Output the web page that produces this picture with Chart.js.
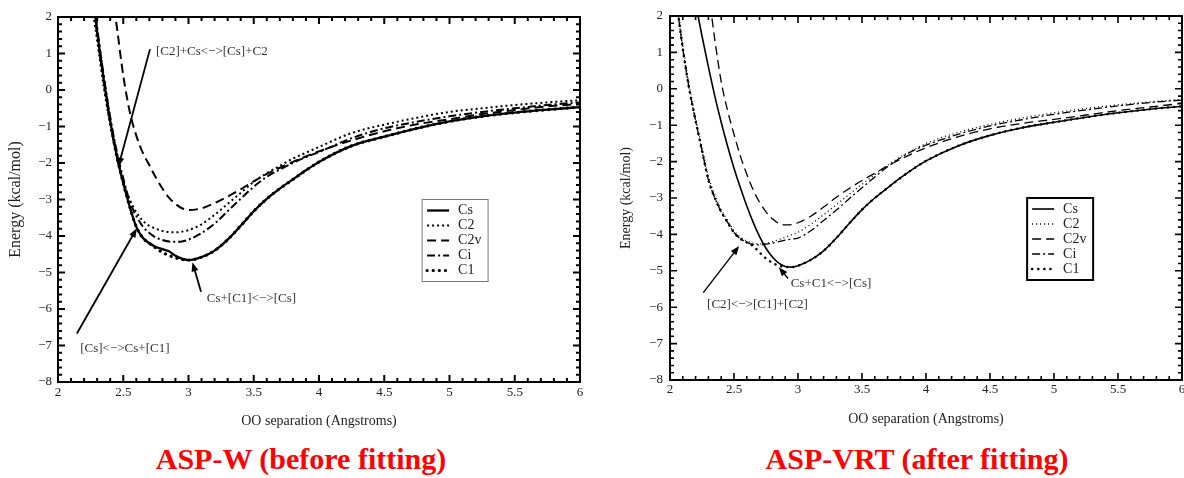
<!DOCTYPE html>
<html>
<head>
<meta charset="utf-8">
<script src="https://cdn.jsdelivr.net/npm/chart.js@4.4.1/dist/chart.umd.min.js"></script>
<style>
  body { margin:0; background:#fff; width:1184px; height:478px; position:relative; overflow:hidden; }
  canvas { position:absolute; top:0; }
  .cap { position:absolute; top:444px; font-family:"Liberation Serif","Times New Roman",serif; font-weight:bold;
         font-size:30px; line-height:30px; color:#f00; white-space:nowrap; transform:translateX(-50%); }
</style>
</head>
<body>
<canvas id="aspw" width="592" height="440" style="left:0"></canvas>
<canvas id="aspvrt" width="584" height="440" style="left:600px"></canvas>
<div class="cap" style="left:301px">ASP-W (before fitting)</div>
<div class="cap" style="left:917px">ASP-VRT (after fitting)</div>
<script>
// dimer conformers, in legend order
const conformers = ['Cs', 'C2', 'C2v', 'Ci', 'C1'];

// ASP-W (before fitting): OO separation (Angstroms) and energies (kcal/mol)
const sepW = [2.25, 2.30, 2.35, 2.40, 2.45, 2.50, 2.55, 2.60, 2.65, 2.70, 2.75, 2.80, 2.85, 2.90, 2.95, 3.00,
  3.10, 3.20, 3.30, 3.40, 3.50, 3.60, 3.70, 3.80, 3.90, 4.00, 4.25, 4.50, 4.75, 5.00, 5.25, 5.50, 5.75, 6.00];
const csW = [3.2, 1.6, 0.3, -0.85, -1.8, -2.55, -3.2, -3.75, -4.05, -4.2, -4.3, -4.36, -4.42, -4.54, -4.62, -4.66,
  -4.58, -4.4, -4.1, -3.72, -3.32, -2.98, -2.7, -2.45, -2.2, -1.97, -1.53, -1.28, -1.05, -0.86, -0.72, -0.62, -0.54, -0.47];
const c2W = [2.6, 1.35, 0.1, -0.95, -1.8, -2.5, -3.0, -3.35, -3.58, -3.72, -3.8, -3.86, -3.89, -3.9, -3.88, -3.84,
  -3.68, -3.42, -3.12, -2.82, -2.52, -2.28, -2.08, -1.88, -1.72, -1.56, -1.18, -0.95, -0.76, -0.6, -0.5, -0.41, -0.34, -0.28];
const c2vW = [null, null, null, 3.0, 1.75, 0.4, -0.6, -1.25, -1.72, -2.06, -2.4, -2.7, -2.95, -3.12, -3.24, -3.29,
  -3.24, -3.1, -2.92, -2.72, -2.5, -2.3, -2.13, -1.97, -1.82, -1.68, -1.38, -1.13, -0.94, -0.8, -0.66, -0.55, -0.45, -0.38];
const ciW = [3.3, 1.7, 0.4, -0.75, -1.68, -2.42, -3.05, -3.45, -3.74, -3.92, -4.04, -4.11, -4.15, -4.16, -4.15, -4.1,
  -3.92, -3.66, -3.32, -2.98, -2.65, -2.38, -2.18, -2.0, -1.84, -1.7, -1.32, -1.05, -0.87, -0.72, -0.6, -0.5, -0.41, -0.34];
const c1W = [3.2, 1.6, 0.3, -0.85, -1.8, -2.55, -3.2, -3.75, -4.05, -4.2, -4.33, -4.45, -4.53, -4.6, -4.64, -4.66,
  -4.58, -4.4, -4.1, -3.72, -3.32, -2.98, -2.7, -2.45, -2.2, -1.97, -1.53, -1.28, -1.05, -0.86, -0.72, -0.62, -0.54, -0.47];

// ASP-VRT (after fitting)
const sepVRT = [2.05, 2.10, 2.15, 2.20, 2.25, 2.30, 2.35, 2.40, 2.45, 2.50, 2.55, 2.60, 2.65, 2.70, 2.75, 2.80, 2.85, 2.90, 2.95, 3.00,
  3.10, 3.20, 3.30, 3.40, 3.50, 3.60, 3.70, 3.80, 3.90, 4.00, 4.25, 4.50, 4.75, 5.00, 5.25, 5.50, 5.75, 6.00];
const csVRT = [null, null, null, 2.35, 1.45, 0.6, -0.2, -0.92, -1.58, -2.18, -2.72, -3.22, -3.67, -4.06, -4.38, -4.62, -4.79, -4.88, -4.9, -4.86,
  -4.7, -4.45, -4.1, -3.7, -3.32, -3.0, -2.72, -2.45, -2.2, -1.98, -1.57, -1.28, -1.07, -0.92, -0.78, -0.66, -0.56, -0.48];
const c2VRT = [2.6, 1.2, 0.1, -0.8, -1.62, -2.4, -2.92, -3.32, -3.62, -3.9, -4.08, -4.18, -4.24, -4.26, -4.25, -4.2, -4.14, -4.08, -4.01, -3.94,
  -3.72, -3.46, -3.18, -2.9, -2.62, -2.36, -2.1, -1.87, -1.68, -1.5, -1.2, -0.98, -0.8, -0.66, -0.54, -0.44, -0.36, -0.29];
const c2vVRT = [null, null, null, null, null, 2.7, 1.35, 0.2, -0.6, -1.25, -1.85, -2.35, -2.78, -3.12, -3.38, -3.57, -3.7, -3.74, -3.73, -3.68,
  -3.5, -3.25, -2.98, -2.74, -2.52, -2.32, -2.12, -1.94, -1.77, -1.62, -1.32, -1.1, -0.95, -0.84, -0.72, -0.6, -0.5, -0.4];
const ciVRT = [2.4, 1.1, 0.0, -0.88, -1.7, -2.5, -3.0, -3.38, -3.67, -3.95, -4.12, -4.22, -4.28, -4.29, -4.27, -4.24, -4.2, -4.16, -4.13, -4.1,
  -3.9, -3.62, -3.33, -3.02, -2.72, -2.42, -2.14, -1.9, -1.7, -1.55, -1.25, -1.02, -0.85, -0.7, -0.58, -0.47, -0.38, -0.31];
const c1VRT = [2.4, 1.1, 0.0, -0.88, -1.7, -2.5, -3.0, -3.38, -3.67, -3.95, -4.12, -4.22, -4.32, -4.5, -4.66, -4.78, -4.86, -4.89, -4.9, -4.86,
  -4.7, -4.45, -4.1, -3.7, -3.32, -3.0, -2.72, -2.45, -2.2, -1.98, -1.57, -1.28, -1.07, -0.92, -0.78, -0.66, -0.56, -0.48];

// arrows + labels, in data units
const notesW = [
  {text: '[C2]+Cs<\u2212>[Cs]+C2', at: [2.75, 1.04], tail: [2.705, 1.12], head: [2.463, -2.1]},
  {text: '[Cs]<\u2212>Cs+[C1]', at: [2.17, -7.08], tail: [2.145, -6.67], head: [2.604, -3.79]},
  {text: 'Cs+[C1]<\u2212>[Cs]', at: [3.14, -5.71], tail: [3.096, -5.53], head: [3.03, -4.72]}
];
const notesVRT = [
  {text: 'Cs+C1<\u2212>[Cs]', at: [2.943, -5.34], tail: [2.922, -5.21], head: [2.85, -4.9]},
  {text: '[C2]<\u2212>[C1]+[C2]', at: [2.29, -5.94], tail: [2.26, -5.6], head: [2.54, -4.32]}
];

Chart.defaults.font.family = "'Liberation Serif', 'Times New Roman', serif";
Chart.defaults.color = '#222';

// inward tick marks on all four sides plus the frame
const frameTicks = {
  id: 'frameTicks',
  afterDatasetsDraw(chart, args, opts) {
    const {ctx, chartArea: a, scales: {x, y}} = chart;
    ctx.save();
    ctx.strokeStyle = '#000';
    ctx.lineWidth = opts.tickWidth;
    ctx.beginPath();
    const nx = Math.round((x.max - x.min) / 0.1);
    for (let i = 0; i <= nx; i++) {
      const px = x.getPixelForValue(x.min + i * 0.1);
      const len = i % 5 === 0 ? opts.major : opts.minor;
      ctx.moveTo(px, a.bottom); ctx.lineTo(px, a.bottom - len);
      ctx.moveTo(px, a.top); ctx.lineTo(px, a.top + len);
    }
    const ny = Math.round((y.max - y.min) / 0.2);
    for (let i = 0; i <= ny; i++) {
      const py = y.getPixelForValue(y.min + i * 0.2);
      const len = i % 5 === 0 ? opts.major : opts.minor;
      ctx.moveTo(a.left, py); ctx.lineTo(a.left + len, py);
      ctx.moveTo(a.right, py); ctx.lineTo(a.right - len, py);
    }
    ctx.stroke();
    ctx.lineWidth = opts.frame;
    ctx.strokeRect(a.left, a.top, a.right - a.left, a.bottom - a.top);
    ctx.restore();
  }
};

// boxed legend sitting inside the plot
const boxLegend = {
  id: 'boxLegend',
  afterDatasetsDraw(chart, args, opts) {
    const {ctx, scales: {x, y}} = chart;
    const left = x.getPixelForValue(opts.at[0]);
    const top = y.getPixelForValue(opts.at[1]);
    ctx.save();
    ctx.fillStyle = '#fff';
    ctx.fillRect(left, top, opts.w, opts.h);
    ctx.strokeStyle = opts.border;
    ctx.lineWidth = opts.borderWidth;
    ctx.strokeRect(left, top, opts.w, opts.h);
    ctx.font = '14px ' + Chart.defaults.font.family;
    ctx.textBaseline = 'middle';
    chart.data.datasets.forEach((ds, i) => {
      const ly = top + 11 + i * 15;
      ctx.strokeStyle = '#000';
      ctx.lineWidth = ds.borderWidth;
      ctx.lineCap = ds.borderCapStyle || 'butt';
      ctx.setLineDash(ds.borderDash || []);
      ctx.beginPath();
      ctx.moveTo(left + 5, ly);
      ctx.lineTo(left + 27, ly);
      ctx.stroke();
      ctx.setLineDash([]);
      ctx.fillStyle = '#222';
      ctx.fillText(ds.label, left + 36, ly);
    });
    ctx.restore();
  }
};

// annotation arrows
const arrowNotes = {
  id: 'arrowNotes',
  afterDatasetsDraw(chart, args, opts) {
    const {ctx, scales: {x, y}} = chart;
    ctx.save();
    ctx.font = '13px ' + Chart.defaults.font.family;
    ctx.textBaseline = 'middle';
    opts.items.forEach(n => {
      const x0 = x.getPixelForValue(n.tail[0]), y0 = y.getPixelForValue(n.tail[1]);
      const x1 = x.getPixelForValue(n.head[0]), y1 = y.getPixelForValue(n.head[1]);
      const ang = Math.atan2(y1 - y0, x1 - x0);
      ctx.strokeStyle = '#000';
      ctx.fillStyle = '#000';
      ctx.lineWidth = opts.width;
      ctx.beginPath();
      ctx.moveTo(x0, y0);
      ctx.lineTo(x1 - 6 * Math.cos(ang), y1 - 6 * Math.sin(ang));
      ctx.stroke();
      ctx.beginPath();
      ctx.moveTo(x1, y1);
      ctx.lineTo(x1 - 9 * Math.cos(ang) + 3.5 * Math.sin(ang), y1 - 9 * Math.sin(ang) - 3.5 * Math.cos(ang));
      ctx.lineTo(x1 - 9 * Math.cos(ang) - 3.5 * Math.sin(ang), y1 - 9 * Math.sin(ang) + 3.5 * Math.cos(ang));
      ctx.closePath();
      ctx.fill();
      ctx.fillStyle = '#333';
      ctx.fillText(n.text, x.getPixelForValue(n.at[0]), y.getPixelForValue(n.at[1]));
    });
    ctx.restore();
  }
};

function minusSign(v) {
  return String(v).replace('-', '\u2212');
}

function makeChart(id, sep, series, look) {
  const styles = [
    {borderDash: [], borderWidth: look.lw + 0.3},
    {borderDash: look.dotted, borderWidth: look.lw},
    {borderDash: [9, 5], borderWidth: look.lw},
    {borderDash: [8, 3, 2, 3], borderWidth: look.lw},
    {borderDash: [0.1, 6], borderWidth: look.lw + 1.2, borderCapStyle: 'round'}
  ];
  const datasets = conformers.map((name, k) => Object.assign({
    label: name,
    data: sep.map((s, i) => ({x: s, y: series[k][i]})),
    borderColor: '#000',
    pointRadius: 0,
    tension: 0.4,
    cubicInterpolationMode: 'monotone',
    clip: 0
  }, styles[k]));

  return new Chart(document.getElementById(id), {
    type: 'line',
    data: {datasets: datasets},
    plugins: [frameTicks, boxLegend, arrowNotes],
    options: {
      responsive: false,
      animation: false,
      events: [],
      layout: {padding: {top: look.top, right: look.right, left: 0, bottom: 0}},
      scales: {
        x: {
          type: 'linear', min: 2, max: 6,
          grid: {display: false, drawTicks: false},
          border: {display: false},
          ticks: {stepSize: 0.5, autoSkip: false, maxRotation: 0, padding: look.xPad,
                  font: {size: 13}, callback: minusSign},
          title: {display: true, text: 'OO separation (Angstroms)', font: {size: 14},
                  padding: {top: 0, bottom: look.xTitlePad}},
          afterFit: s => { s.height = look.xH; s.paddingLeft = 0; s.paddingRight = 0; }
        },
        y: {
          type: 'linear', min: -8, max: 2,
          grid: {display: false, drawTicks: false},
          border: {display: false},
          ticks: {stepSize: 1, autoSkip: false, padding: look.yPad,
                  font: {size: 13}, callback: minusSign},
          title: {display: true, text: 'Energy (kcal/mol)', font: {size: look.yTitleSize},
                  padding: {top: look.yTitlePad, bottom: 0}},
          afterFit: s => { s.width = look.yW; s.paddingTop = 0; s.paddingBottom = 0; }
        }
      },
      plugins: {
        legend: {display: false},
        tooltip: {enabled: false},
        frameTicks: {tickWidth: look.tickW, major: 7, minor: 4, frame: 2},
        boxLegend: {at: [4.79, -3.0], w: 66, h: 82, border: look.legBorder, borderWidth: look.legBorderW},
        arrowNotes: {items: look.notes, width: look.arrowW}
      }
    }
  });
}

makeChart('aspw', sepW, [csW, c2W, c2vW, ciW, c1W], {
  lw: 2, dotted: [2, 3], top: 17, right: 12, xH: 58, yW: 58, xPad: 3, yPad: 6,
  xTitlePad: 10, yTitleSize: 16, yTitlePad: 6, tickW: 2, legBorder: '#777', legBorderW: 1,
  notes: notesW, arrowW: 1.8
});

makeChart('aspvrt', sepVRT, [csVRT, c2VRT, c2vVRT, ciVRT, c1VRT], {
  lw: 1.3, dotted: [1, 3], top: 16, right: 2, xH: 60, yW: 70, xPad: 2, yPad: 7,
  xTitlePad: 12, yTitleSize: 14, yTitlePad: 18, tickW: 1.6, legBorder: '#000', legBorderW: 2,
  notes: notesVRT, arrowW: 1.4
});
</script>
</body>
</html>
